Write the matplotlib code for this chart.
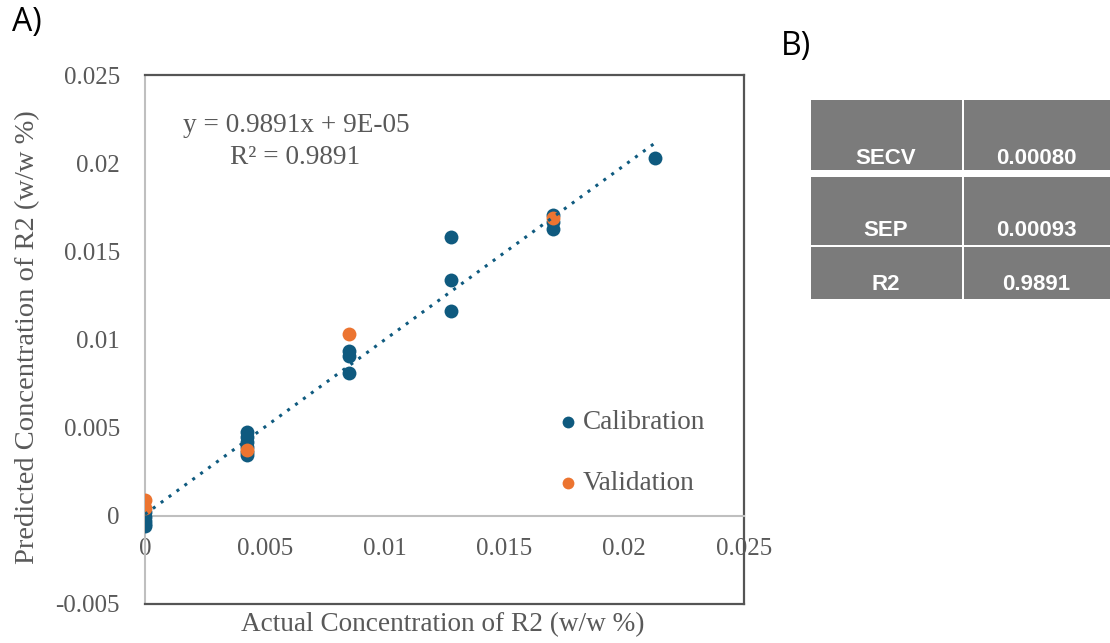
import matplotlib

matplotlib.use("Agg")
import matplotlib.pyplot as plt
from matplotlib.patches import Rectangle

# actual concentration levels (w/w %)
levels = [0.0, 0.004257, 0.008514, 0.012771, 0.017028, 0.021285]

cal_x = [0.0, 0.0, 0.0, 0.0, 0.0,
         0.004257, 0.004257, 0.004257, 0.004257, 0.004257, 0.004257,
         0.008514, 0.008514, 0.008514,
         0.012771, 0.012771, 0.012771,
         0.017028, 0.017028, 0.017028,
         0.021285]
cal_y = [0.00023, -0.00006, -0.00028, -0.00045, -0.00055,
         0.00476, 0.00448, 0.0042, 0.0039, 0.00363, 0.00346,
         0.00936, 0.00907, 0.00811,
         0.01582, 0.01338, 0.01163,
         0.01707, 0.01667, 0.01628,
         0.02027]

val_x = [0.0, 0.0, 0.004257, 0.008514, 0.017028]
val_y = [0.00088, 0.00045, 0.00372, 0.01032, 0.0169]

slope = 0.9891
intercept = 9e-05
r2 = 0.9891

table_labels = ["SECV", "SEP", "R2"]
table_values = ["0.00080", "0.00093", "0.9891"]

BLUE = "#0f5a7f"
ORANGE = "#ec7430"
GREY_TXT = "#595959"
W, H = 1110, 643


def fx(x):
    return x / W


def fy(y):
    return 1 - y / H


fig = plt.figure(figsize=(W / 100, H / 100), dpi=100)
ax = fig.add_axes([fx(145), fy(604), fx(744) - fx(145), fy(75) - fy(604)])

serif = "Liberation Serif"

ax.scatter(cal_x, cal_y, s=100, color=BLUE, zorder=3, label="Calibration", linewidths=0)
ax.scatter(val_x, val_y, s=100, color=ORANGE, zorder=4, label="Validation", linewidths=0)

x_end = levels[-1] + 0.0001
ax.plot([0, x_end], [intercept, slope * x_end + intercept], color=BLUE,
        linestyle=(0, (1, 2.2)), linewidth=2.2, zorder=5)

ax.set_xlim(0, 0.025)
ax.set_ylim(-0.005, 0.025)
ax.set_xticks([0, 0.005, 0.01, 0.015, 0.02, 0.025])
ax.set_xticklabels(["0", "0.005", "0.01", "0.015", "0.02", "0.025"])
ax.set_yticks([-0.005, 0, 0.005, 0.01, 0.015, 0.02, 0.025])
ax.set_yticklabels(["-0.005", "0", "0.005", "0.01", "0.015", "0.02", "0.025"])

ax.spines["bottom"].set_position(("data", 0))
ax.spines["bottom"].set_color("#bfbfbf")
ax.spines["bottom"].set_linewidth(1.5)
ax.spines["left"].set_color("#bfbfbf")
ax.spines["left"].set_linewidth(1.5)
for side in ["top", "right"]:
    ax.spines[side].set_color("#555555")
    ax.spines[side].set_linewidth(1.6)
ax.plot([0, 1], [0, 0], transform=ax.transAxes, color="#555555",
        linewidth=1.6, clip_on=False, zorder=6)

ax.tick_params(axis="both", length=0, labelsize=18, labelcolor=GREY_TXT)
ax.tick_params(axis="x", pad=16)
ax.tick_params(axis="y", pad=18)
for lab in ax.get_xticklabels() + ax.get_yticklabels():
    lab.set_fontfamily(serif)

fig.text(fx(296), fy(125), f"y = {slope}x + 9E-05", ha="center", va="center",
         fontsize=19.6, family=serif, color=GREY_TXT)
fig.text(fx(295), fy(157), f"R\u00b2 = {r2}", ha="center", va="center",
         fontsize=19.6, family=serif, color=GREY_TXT)

leg = ax.legend(loc="upper left", bbox_to_anchor=((554 - 145) / 599, (604 - 410) / 529),
                frameon=False, prop={"family": serif, "size": 19.6}, labelcolor=GREY_TXT,
                handletextpad=0.05, labelspacing=1.33, markerscale=0.85,
                handlelength=1.0, borderaxespad=0, borderpad=0)

fig.text(fx(443), fy(625), "Actual Concentration of R2 (w/w %)", ha="center",
         va="center", fontsize=19.6, family=serif, color=GREY_TXT)
fig.text(fx(28), fy(337), "Predicted Concentration of R2 (w/w %)", ha="center",
         va="center", rotation=90, fontsize=20.5, family=serif, color=GREY_TXT)

fig.text(fx(27), fy(22), "A)", ha="center", va="center", fontsize=23,
         family="Open Sans", color="black")
fig.text(fx(796), fy(47), "B)", ha="center", va="center", fontsize=23,
         family="Open Sans", color="black")

# table B
col_x = [(811, 962), (964, 1110)]
row_y = [(100, 170), (177, 245), (247, 299)]
text_y = [159, 231, 285]
for r, (lab, val) in enumerate(zip(table_labels, table_values)):
    y0, y1 = row_y[r]
    for c, (x0, x1) in enumerate(col_x):
        fig.add_artist(Rectangle((fx(x0), fy(y1)), fx(x1) - fx(x0), fy(y0) - fy(y1),
                                 transform=fig.transFigure, facecolor="#7b7b7b",
                                 edgecolor="none"))
    fig.text(fx(886), fy(text_y[r]), lab, ha="center", va="center", fontsize=16,
             family="Liberation Sans", weight="bold", color="white")
    fig.text(fx(1036), fy(text_y[r]), val, ha="center", va="center", fontsize=16,
             family="Liberation Sans", weight="bold", color="white")

fig.savefig("out.png", dpi=100)
